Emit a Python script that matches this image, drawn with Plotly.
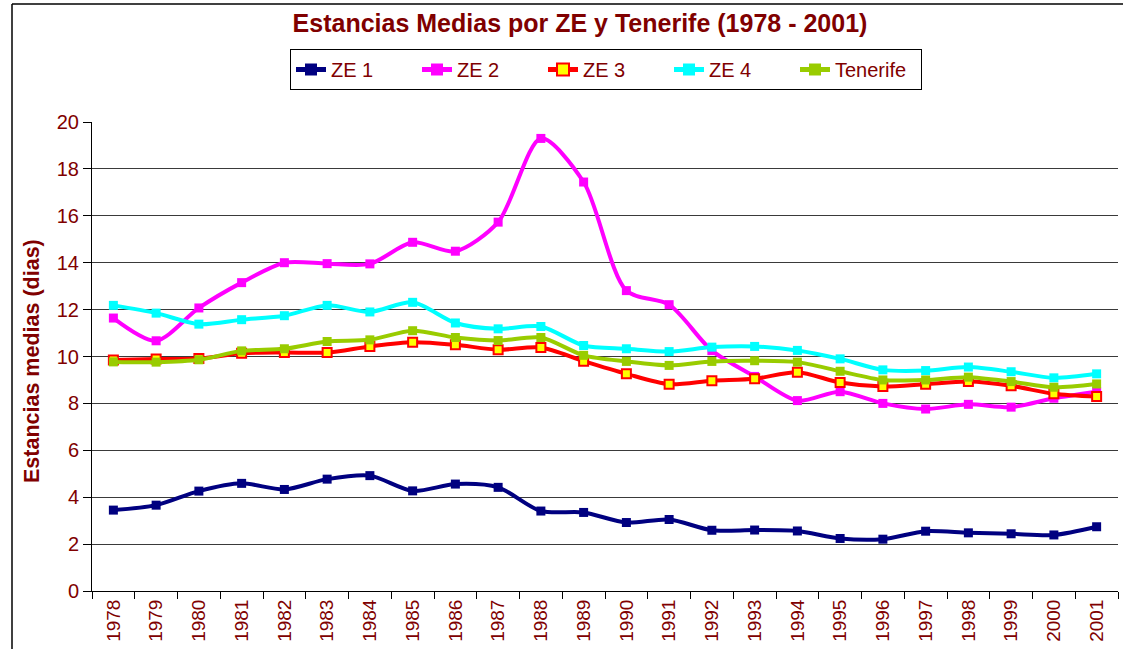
import plotly.graph_objects as go

years = [str(y) for y in range(1978, 2002)]

ze1 = [3.45, 3.66, 4.26, 4.59, 4.33, 4.77, 4.92, 4.27, 4.56, 4.42, 3.41, 3.35,
       2.92, 3.05, 2.59, 2.60, 2.56, 2.24, 2.21, 2.55, 2.48, 2.44, 2.39, 2.74]
ze2 = [11.64, 10.67, 12.07, 13.15, 14.0, 13.96, 13.95, 14.87, 14.49, 15.73, 19.3, 17.44,
       12.81, 12.21, 10.25, 9.15, 8.12, 8.5, 8.0, 7.76, 7.96, 7.84, 8.22, 8.5]
ze3 = [9.85, 9.89, 9.91, 10.14, 10.17, 10.17, 10.43, 10.61, 10.5, 10.29, 10.38, 9.8,
       9.26, 8.82, 8.97, 9.05, 9.33, 8.89, 8.72, 8.82, 8.93, 8.75, 8.41, 8.29]
ze4 = [12.18, 11.85, 11.38, 11.57, 11.74, 12.18, 11.9, 12.31, 11.43, 11.18, 11.28, 10.47,
       10.33, 10.21, 10.4, 10.43, 10.26, 9.9, 9.43, 9.4, 9.55, 9.35, 9.09, 9.26]
tenerife = [9.77, 9.76, 9.86, 10.24, 10.33, 10.64, 10.71, 11.1, 10.81, 10.68, 10.81, 10.05,
            9.79, 9.62, 9.79, 9.82, 9.76, 9.37, 9.0, 9.0, 9.12, 8.93, 8.69, 8.83]

series = [
    ("ZE 1", ze1, "#000080", "#000080"),
    ("ZE 2", ze2, "#FF00FF", "#FF00FF"),
    ("ZE 3", ze3, "#FF0000", "#FFFF00"),
    ("ZE 4", ze4, "#00FFFF", "#00FFFF"),
    ("Tenerife", tenerife, "#99CC00", "#99CC00"),
]

FONT = "Arial, Liberation Sans, sans-serif"
DARKRED = "#800000"

fig = go.Figure()
for name, vals, col, fill in series:
    fig.add_trace(go.Scatter(
        x=years, y=vals, name=name, mode="lines+markers",
        line=dict(color=col, width=4, shape="spline", smoothing=0.8),
        marker=dict(symbol="square", size=9, color=fill,
                    line=dict(color=col, width=2 if fill != col else 0)),
    ))

W, H = 1123, 649
L, R, T, B = 92, 5, 122, 58
pw = W - L - R
ph = H - T - B

def px2x(px):
    return (px - L) / pw

def px2y(py):
    return (H - B - py) / ph

fig.update_layout(
    width=W, height=H, autosize=False,
    margin=dict(l=L, r=R, t=T, b=B, autoexpand=False),
    paper_bgcolor="white", plot_bgcolor="white",
    font=dict(family=FONT, color=DARKRED),
    title=dict(text="<b>Estancias Medias por ZE y Tenerife (1978 - 2001)</b>",
               x=580 / W, xanchor="center", y=1 - 23 / H, yanchor="middle",
               font=dict(size=25, color=DARKRED, family=FONT)),
    showlegend=True,
    legend=dict(orientation="h", x=px2x(606), xanchor="center",
                y=px2y(49), yanchor="top",
                bordercolor="black", borderwidth=1, bgcolor="white",
                font=dict(size=20, color=DARKRED, family=FONT),
                entrywidth=81, entrywidthmode="pixels",
                itemsizing="constant"),
    xaxis=dict(type="category", range=[-0.5, 23.5],
               showline=True, linecolor="black", linewidth=1,
               ticks="outside", ticklen=7, tickcolor="black",
               tickson="boundaries", showgrid=False,
               tickangle=-90, tickfont=dict(size=19, color=DARKRED, family=FONT)),
    yaxis=dict(range=[0, 20], dtick=2, tick0=0,
               showline=True, linecolor="black", linewidth=1,
               ticks="outside", ticklen=8, tickcolor="black",
               showgrid=True, gridcolor="#3a3a3a", gridwidth=1,
               zeroline=False,
               tickfont=dict(size=20, color=DARKRED, family=FONT)),
    annotations=[dict(text="<b>Estancias medias (dias)</b>", textangle=-90,
                      xref="paper", yref="paper", x=px2x(32), y=px2y(361),
                      xanchor="center", yanchor="middle", showarrow=False,
                      font=dict(size=21.5, color=DARKRED, family=FONT))],
    shapes=[
        dict(type="line", xref="paper", yref="paper",
             x0=px2x(12), x1=px2x(12), y0=px2y(4), y1=px2y(700),
             line=dict(color="black", width=1.5)),
        dict(type="line", xref="paper", yref="paper",
             x0=px2x(12), x1=px2x(1200), y0=px2y(4), y1=px2y(4),
             line=dict(color="black", width=1.5)),
    ],
)

fig.write_html("out.html", config={"displayModeBar": False},
               post_script="document.body.style.margin='0';document.body.style.overflow='hidden';")
